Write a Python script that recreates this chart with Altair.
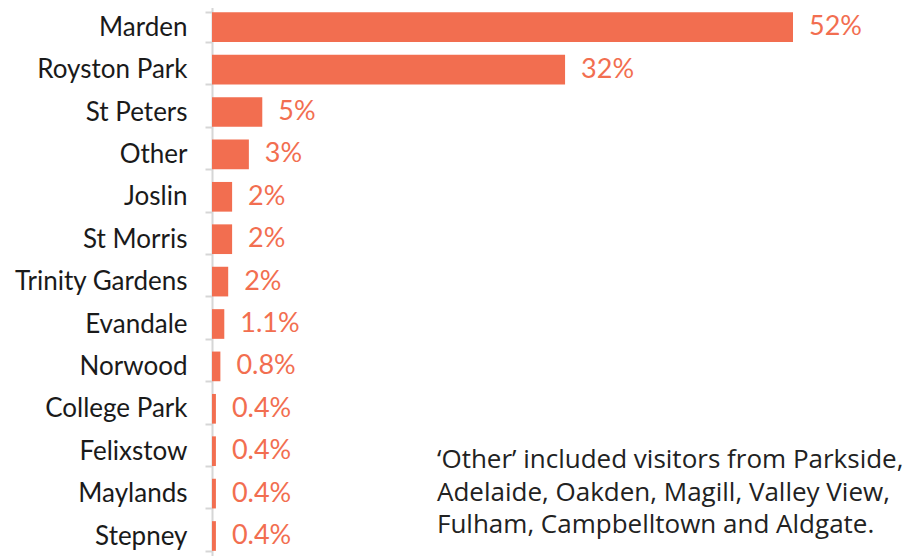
import altair as alt
import pandas as pd

suburbs = ["Marden", "Royston Park", "St Peters", "Other", "Joslin", "St Morris",
           "Trinity Gardens", "Evandale", "Norwood", "College Park", "Felixstow",
           "Maylands", "Stepney"]
shares = [52, 31.6, 4.5, 3.3, 1.8, 1.8, 1.45, 1.1, 0.75, 0.35, 0.35, 0.35, 0.35]
share_labels = ["52%", "32%", "5%", "3%", "2%", "2%", "2%", "1.1%", "0.8%",
                "0.4%", "0.4%", "0.4%", "0.4%"]
note = ["\u2018Other\u2019 included visitors from Parkside,",
        "Adelaide, Oakden, Magill, Valley View,",
        "Fulham, Campbelltown and Aldgate."]

df = pd.DataFrame({"suburb": suburbs, "share": shares, "label": share_labels})

BAR = "#F26E50"
FONT = "Lato"

y_enc = alt.Y("suburb:N", sort=suburbs, title=None,
              scale=alt.Scale(paddingInner=0.3, paddingOuter=0.15),
              axis=alt.Axis(labelFont=FONT, labelFontSize=26, labelColor="#1a1a1a",
                            labelPadding=18, tickSize=7, tickColor="#d6d6d6",
                            tickWidth=2, tickBand="extent", domainColor="#d6d6d6",
                            domainWidth=2, labelLimit=400))
x_enc = alt.X("share:Q", scale=alt.Scale(domain=[0, 52]), axis=None)

bars = alt.Chart(df).mark_bar(color=BAR).encode(x=x_enc, y=y_enc)
texts = alt.Chart(df).mark_text(align="left", baseline="middle", dx=16,
                                font=FONT, fontSize=27, fontWeight=400,
                                color=BAR).encode(x=x_enc, y=y_enc, text="label:N")

note_df = pd.DataFrame({"t": ["\n".join(note)]})
annot = alt.Chart(note_df).mark_text(align="left", baseline="alphabetic",
                                     font="Open Sans", fontSize=26, color="#222222",
                                     lineBreak="\n", lineHeight=32.5).encode(
    x=alt.value(225), y=alt.value(462), text="t:N")

chart = alt.layer(bars, texts, annot).properties(
    width=581, height=551.2,
    background="white",
    autosize=alt.AutoSizeParams(type="none"),
    padding={"left": 204, "top": -2, "right": 112, "bottom": -1.2},
).configure_view(strokeWidth=0, stroke="transparent")

chart.save("out.html", embed_options={"renderer": "svg", "actions": False})
